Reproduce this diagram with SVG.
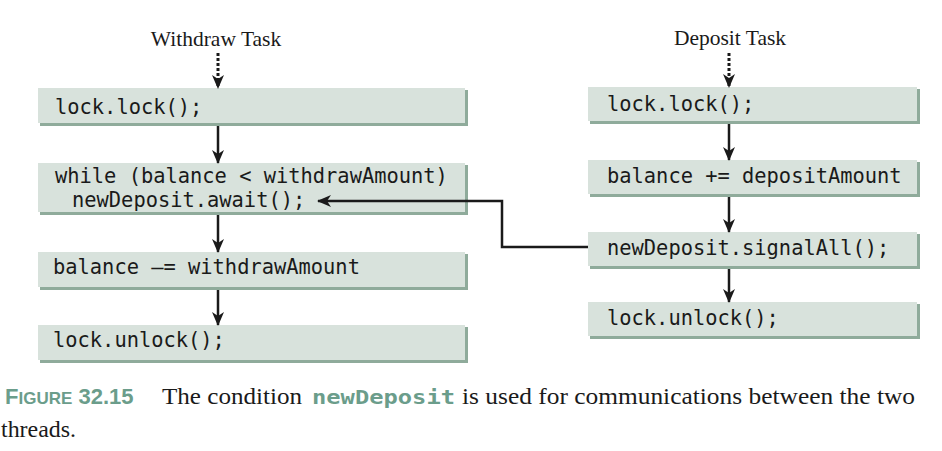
<svg xmlns="http://www.w3.org/2000/svg" width="942" height="451" viewBox="0 0 942 451">
<style>
.box{fill:#d8e2dc}
.sh{fill:#8fab9b}
.code{font-family:"DejaVu Sans Mono","Liberation Mono",monospace;font-size:20.4px;fill:#1a1a1a}
.title{font-family:"Liberation Serif",serif;font-size:21.5px;fill:#1a1a1a}
.cap{font-family:"Liberation Serif",serif;font-size:23px;fill:#1a1a1a}
.fig{font-family:"Liberation Sans",sans-serif;font-weight:bold;fill:#6b9d8b}
.capmono{font-family:"DejaVu Sans Mono","Liberation Mono",monospace;font-size:20px;font-weight:bold;fill:#6b9d8b}
.ln{stroke:#1a1a1a;stroke-width:2.5;fill:none}
.dash{stroke:#1a1a1a;stroke-width:3;fill:none;stroke-dasharray:3 2}
</style>
<defs>
<marker id="ah" markerUnits="userSpaceOnUse" markerWidth="14" markerHeight="12" viewBox="0 0 14 12" refX="13" refY="6" orient="auto">
<path d="M0,0 L14,6 L0,12 L4,6 z" fill="#1a1a1a"/>
</marker>
</defs>
<rect width="942" height="451" fill="#ffffff"/>
<text class="title" x="216" y="46" text-anchor="middle">Withdraw Task</text>
<text class="title" x="730" y="45" text-anchor="middle">Deposit Task</text>
<g id="w1"><rect class="sh" x="40" y="90" width="428" height="36"/><rect class="box" x="38" y="88" width="427" height="35"/><text class="code" x="55" y="114">lock.lock();</text></g>
<g id="w2"><rect class="sh" x="40" y="165" width="428" height="50"/><rect class="box" x="38" y="163" width="427" height="49"/><text class="code" x="55" y="183">while (balance &lt; withdrawAmount)</text><text class="code" x="72" y="207">newDeposit.await();</text></g>
<g id="w3"><rect class="sh" x="40" y="254" width="428" height="36"/><rect class="box" x="38" y="252" width="427" height="35"/><text class="code" x="53" y="274">balance –= withdrawAmount</text></g>
<g id="w4"><rect class="sh" x="40" y="327" width="428" height="36"/><rect class="box" x="38" y="325" width="427" height="35"/><text class="code" x="53" y="347">lock.unlock();</text></g>
<g id="d1"><rect class="sh" x="590" y="89" width="330" height="35"/><rect class="box" x="588" y="87" width="329" height="34"/><text class="code" x="607" y="111">lock.lock();</text></g>
<g id="d2"><rect class="sh" x="590" y="162" width="330" height="35"/><rect class="box" x="588" y="160" width="329" height="34"/><text class="code" x="607" y="183">balance += depositAmount</text></g>
<g id="d3"><rect class="sh" x="590" y="234" width="330" height="35"/><rect class="box" x="588" y="232" width="329" height="34"/><text class="code" x="607" y="255">newDeposit.signalAll();</text></g>
<g id="d4"><rect class="sh" x="590" y="304" width="330" height="35"/><rect class="box" x="588" y="302" width="329" height="34"/><text class="code" x="607" y="325">lock.unlock();</text></g>
<g id="connectors">
<line class="dash" x1="218" y1="53" x2="218" y2="88" marker-end="url(#ah)"/>
<line class="dash" x1="729" y1="53" x2="729" y2="87" marker-end="url(#ah)"/>
<line class="ln" x1="218" y1="126" x2="218" y2="163" marker-end="url(#ah)"/>
<line class="ln" x1="218" y1="215" x2="218" y2="252" marker-end="url(#ah)"/>
<line class="ln" x1="218" y1="290" x2="218" y2="325" marker-end="url(#ah)"/>
<line class="ln" x1="729" y1="124" x2="729" y2="160" marker-end="url(#ah)"/>
<line class="ln" x1="729" y1="197" x2="729" y2="232" marker-end="url(#ah)"/>
<line class="ln" x1="729" y1="269" x2="729" y2="302" marker-end="url(#ah)"/>
<path class="ln" d="M588,247 H502 V201 H318" stroke-width="2" marker-end="url(#ah)"/>
</g>
<text x="5" y="404" class="fig"><tspan font-size="22">F</tspan><tspan font-size="17">IGURE</tspan><tspan font-size="22"> 32.15</tspan></text>
<text class="cap" x="162" y="404" textLength="140" lengthAdjust="spacingAndGlyphs">The condition</text>
<text class="capmono" x="312" y="404" textLength="143" lengthAdjust="spacingAndGlyphs">newDeposit</text>
<text class="cap" x="462" y="404" textLength="453" lengthAdjust="spacingAndGlyphs">is used for communications between the two</text>
<text class="cap" x="1" y="437" textLength="75" lengthAdjust="spacingAndGlyphs">threads.</text>
</svg>
